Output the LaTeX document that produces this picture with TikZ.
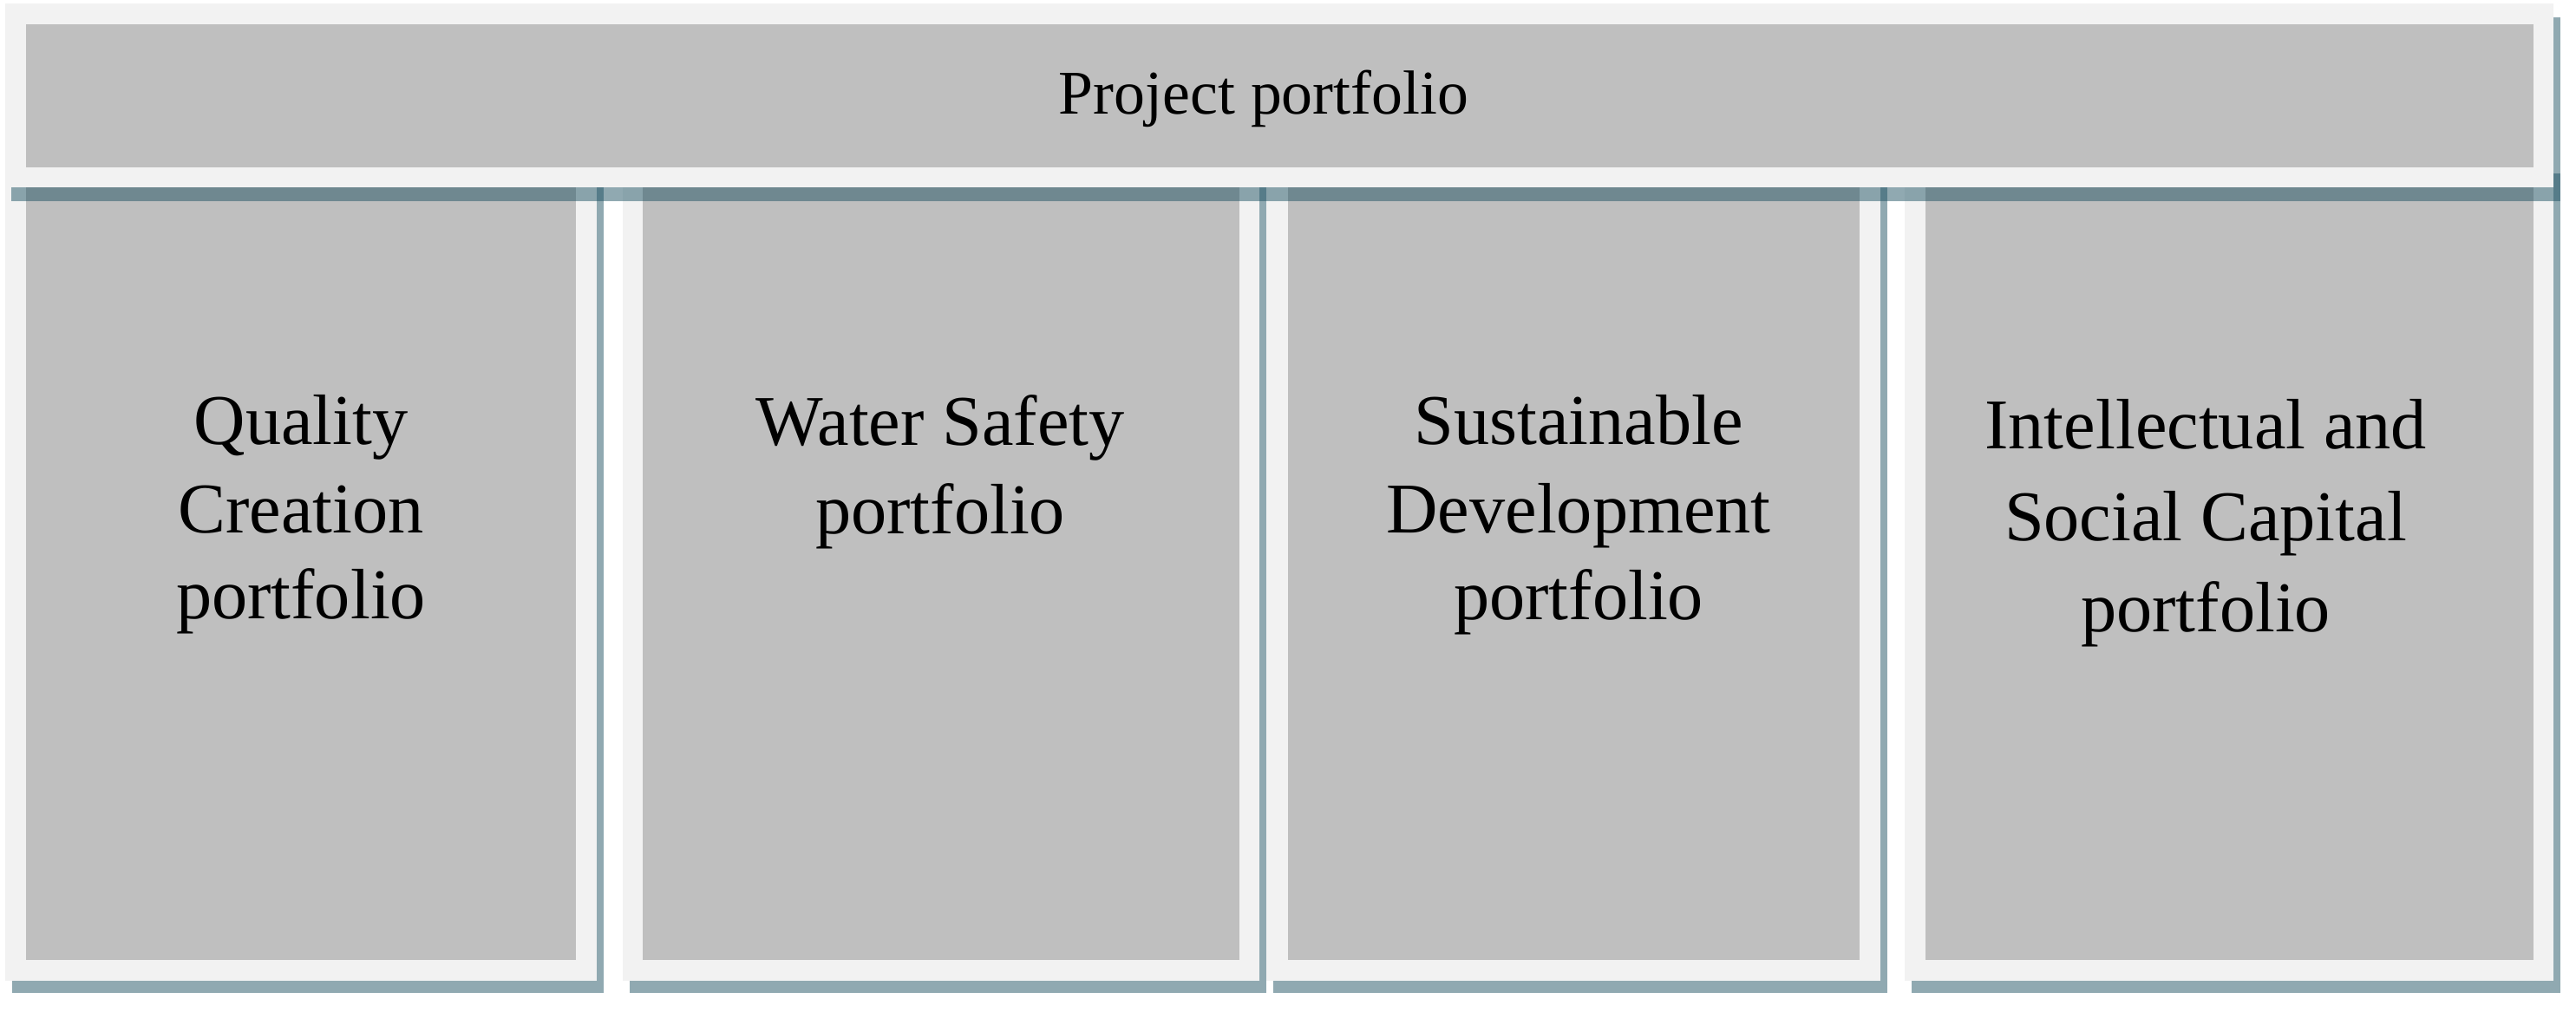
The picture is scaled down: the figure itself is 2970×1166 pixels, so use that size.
\documentclass[tikz,border=0pt]{standalone}
\usepackage{fontspec}
\setmainfont{Liberation Serif}
\definecolor{frame}{HTML}{F2F2F2}
\definecolor{fillg}{HTML}{BFBFBF}
\definecolor{shad}{RGB}{24,77,94}
\tikzset{
  outerbox/.style={fill=frame,draw=none},
  innerbox/.style={fill=fillg,draw=none},
  shadowbox/.style={fill=shad,fill opacity=0.48,draw=none},
  toptext/.style={anchor=base,inner sep=0pt,font=\fontsize{20.4}{24}\selectfont},
  celltext/.style={anchor=base,inner sep=0pt,font=\fontsize{23.4}{30}\selectfont},
}
\begin{document}
\begin{tikzpicture}[x=0.01cm,y=-0.01cm]
\useasboundingbox[fill=white] (0,0) rectangle (2970,1166);
% lower boxes: shadows
\fill[shadowbox] (14,200) rectangle (696,1145);
\fill[shadowbox] (726,200) rectangle (1460,1145);
\fill[shadowbox] (1468,200) rectangle (2176,1145);
\fill[shadowbox] (2204,200) rectangle (2952,1145);
% lower boxes
\fill[outerbox] (6,190) rectangle (688,1131);
\fill[innerbox] (30,214) rectangle (664,1107);
\fill[outerbox] (718,190) rectangle (1452,1131);
\fill[innerbox] (741,214) rectangle (1429,1107);
\fill[outerbox] (1460,190) rectangle (2168,1131);
\fill[innerbox] (1485,214) rectangle (2144,1107);
\fill[outerbox] (2196,190) rectangle (2944,1131);
\fill[innerbox] (2220,214) rectangle (2921,1107);
% top box
\fill[shadowbox] (13,20) rectangle (2952,232);
\fill[outerbox] (6,4) rectangle (2944,216);
\fill[innerbox] (30,28) rectangle (2921,193);
% texts
\node[toptext] (top) at (1457,131) {Project portfolio};
\node[celltext] (qa) at (347,512) {Quality};
\node[celltext] (qb) at (347,614) {Creation};
\node[celltext] (qc) at (347,713) {portfolio};
\node[celltext] (wa) at (1084,513) {Water Safety};
\node[celltext] (wb) at (1084,615) {portfolio};
\node[celltext] (sa) at (1820,512) {Sustainable};
\node[celltext] (sb) at (1820,614) {Development};
\node[celltext] (sc) at (1820,714) {portfolio};
\node[celltext] (ia) at (2543,517) {Intellectual and};
\node[celltext] (ib) at (2543,623) {Social Capital};
\node[celltext] (ic) at (2543,728) {portfolio};
\end{tikzpicture}
\end{document}
